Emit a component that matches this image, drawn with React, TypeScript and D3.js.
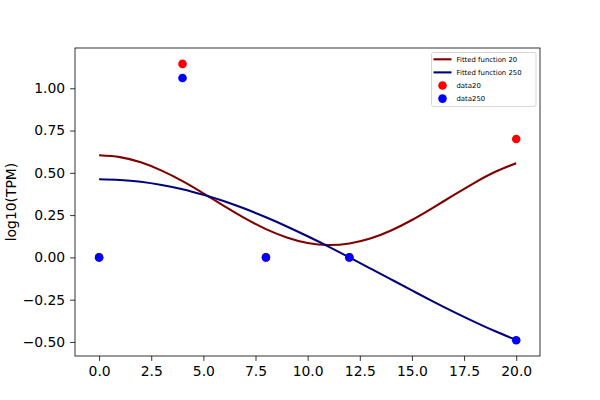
import React, { useEffect, useRef } from "react";
import * as d3 from "d3";

// sample positions for the fitted curves
const fitX = [0, 1, 2, 3, 4, 5, 6, 7, 8, 9, 10, 11, 12, 13, 14, 15, 16, 17, 18, 19, 20];
const fit20 = [
  0.604, 0.593, 0.562, 0.513, 0.451, 0.379, 0.303, 0.231, 0.167, 0.118, 0.085,
  0.073, 0.082, 0.111, 0.159, 0.221, 0.293, 0.368, 0.441, 0.506, 0.557,
];
const fit250 = [
  0.462, 0.458, 0.447, 0.428, 0.403, 0.37, 0.332, 0.287, 0.237, 0.183, 0.125,
  0.064, 0.0, -0.065, -0.13, -0.195, -0.26, -0.322, -0.381, -0.437, -0.488,
];

const dataX = [0, 4, 8, 12, 20];
const data20 = [0, 1.144, 0, 0, 0.7];
const data250 = [0, 1.061, 0, 0, -0.49];

const xTicks = [0, 2.5, 5, 7.5, 10, 12.5, 15, 17.5, 20];
const yTicks = [-0.5, -0.25, 0, 0.25, 0.5, 0.75, 1.0];

const legendItems = [
  { label: "Fitted function 20", kind: "line", color: "#800000" },
  { label: "Fitted function 250", kind: "line", color: "#000080" },
  { label: "data20", kind: "dot", color: "#ff0000" },
  { label: "data250", kind: "dot", color: "#0000ff" },
];

const width = 600;
const height = 400;

const App: React.FC = () => {
  const svgRef = useRef<SVGSVGElement>(null);

  useEffect(() => {
    if (!svgRef.current) return;
    document.body.style.margin = "0";

    const svg = d3.select(svgRef.current);
    svg.selectAll("*").remove();

    const margin = { top: 48, right: 60, bottom: 44, left: 75 };
    const innerWidth = width - margin.left - margin.right;
    const innerHeight = height - margin.top - margin.bottom;
    const font = "DejaVu Sans, sans-serif";

    const x = d3.scaleLinear().domain([-1.155, 21.14]).range([0, innerWidth]);
    const y = d3.scaleLinear().domain([-0.583, 1.238]).range([innerHeight, 0]);

    const g = svg.append("g").attr("transform", `translate(${margin.left},${margin.top})`);

    const line = d3
      .line<number>()
      .x((_, i) => x(fitX[i]))
      .y((d) => y(d))
      .curve(d3.curveNatural);

    g.append("path")
      .datum(fit20)
      .attr("fill", "none")
      .attr("stroke", "#800000")
      .attr("stroke-width", 2.1)
      .attr("d", line);

    g.append("path")
      .datum(fit250)
      .attr("fill", "none")
      .attr("stroke", "#000080")
      .attr("stroke-width", 2.1)
      .attr("d", line);

    g.selectAll("circle.d20")
      .data(data20)
      .join("circle")
      .attr("class", "d20")
      .attr("cx", (_, i) => x(dataX[i]))
      .attr("cy", (d) => y(d))
      .attr("r", 4.3)
      .attr("fill", "#ff0000");

    g.selectAll("circle.d250")
      .data(data250)
      .join("circle")
      .attr("class", "d250")
      .attr("cx", (_, i) => x(dataX[i]))
      .attr("cy", (d) => y(d))
      .attr("r", 4.3)
      .attr("fill", "#0000ff");

    // axes
    const xAxis = g
      .append("g")
      .attr("transform", `translate(0,${innerHeight})`)
      .call(d3.axisBottom(x).tickValues(xTicks).tickSize(4.9).tickPadding(4.9).tickFormat(d3.format(".1f")));
    xAxis.select(".domain").remove();
    xAxis.selectAll("line").attr("stroke", "#000").attr("stroke-width", 0.8);
    xAxis.selectAll("text").attr("font-family", font).attr("font-size", 13.9).attr("fill", "#000");

    const fmtY = (d: d3.NumberValue) => d3.format(".2f")(d as number).replace("-", "\u2212");
    const yAxis = g
      .append("g")
      .call(d3.axisLeft(y).tickValues(yTicks).tickSize(4.9).tickPadding(4.9).tickFormat(fmtY));
    yAxis.select(".domain").remove();
    yAxis.selectAll("line").attr("stroke", "#000").attr("stroke-width", 0.8);
    yAxis.selectAll("text").attr("font-family", font).attr("font-size", 13.9).attr("fill", "#000");

    g.append("rect")
      .attr("width", innerWidth)
      .attr("height", innerHeight)
      .attr("fill", "none")
      .attr("stroke", "#000")
      .attr("stroke-width", 0.8);

    svg
      .append("text")
      .attr("transform", `translate(15.5,${margin.top + innerHeight / 2}) rotate(-90)`)
      .attr("text-anchor", "middle")
      .attr("font-family", font)
      .attr("font-size", 13.9)
      .text("log10(TPM)");

    // legend
    const lg = svg.append("g").attr("transform", "translate(431.5,52.5)");
    lg.append("rect")
      .attr("width", 104.5)
      .attr("height", 54)
      .attr("rx", 2)
      .attr("fill", "#fff")
      .attr("fill-opacity", 0.8)
      .attr("stroke", "#cccccc")
      .attr("stroke-width", 0.8);

    const rows = lg
      .selectAll("g.item")
      .data(legendItems)
      .join("g")
      .attr("class", "item")
      .attr("transform", (_, i) => `translate(0,${6.8 + i * 13.1})`);

    rows
      .filter((d) => d.kind === "line")
      .append("line")
      .attr("x1", 2)
      .attr("x2", 20)
      .attr("stroke", (d) => d.color)
      .attr("stroke-width", 2.1);

    rows
      .filter((d) => d.kind === "dot")
      .append("circle")
      .attr("cx", 11)
      .attr("r", 4.3)
      .attr("fill", (d) => d.color);

    rows
      .append("text")
      .attr("x", 25)
      .attr("dy", "0.35em")
      .attr("font-family", font)
      .attr("font-size", 6.9)
      .text((d) => d.label);
  }, []);

  return <svg ref={svgRef} width={width} height={height} style={{ display: "block", background: "#fff" }} />;
};

export default App;
